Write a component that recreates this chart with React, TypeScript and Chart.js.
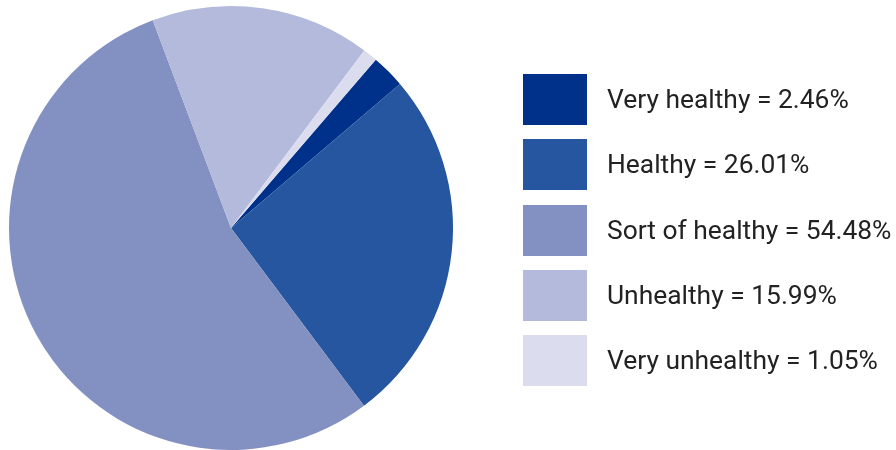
import React, { useEffect, useRef } from "react";
import { Chart, registerables } from "chart.js";

Chart.register(...registerables);

const categories = ["Very healthy", "Healthy", "Sort of healthy", "Unhealthy", "Very unhealthy"];
const shares = [2.46, 26.01, 54.48, 15.99, 1.05];
const colors = ["#00318a", "#25569f", "#8391c2", "#b3badb", "#dbdcee"];

const legendPlugin = {
  id: "customLegend",
  afterDraw(chart: any) {
    const ctx = chart.ctx;
    const labels = chart.data.labels as string[];
    const data = chart.data.datasets[0].data as number[];
    const bg = chart.data.datasets[0].backgroundColor as string[];
    const boxX = 523;
    const boxW = 64;
    const boxH = 51;
    const top0 = 74;
    const pitch = 65.25;
    ctx.save();
    ctx.font = "26.4px Roboto";
    ctx.textBaseline = "middle";
    ctx.textAlign = "left";
    labels.forEach((lab, i) => {
      const y = Math.round(top0 + i * pitch);
      ctx.fillStyle = bg[i];
      ctx.fillRect(boxX, y, boxW, boxH);
      ctx.fillStyle = "#222222";
      ctx.fillText(`${lab} = ${data[i].toFixed(2)}%`, 607, y + boxH / 2 + 1.5);
    });
    ctx.restore();
  },
};

export default function App() {
  const ref = useRef<HTMLCanvasElement>(null);
  useEffect(() => {
    if (!ref.current) return;
    const chart = new Chart(ref.current, {
      type: "pie",
      data: {
        labels: categories,
        datasets: [
          {
            data: shares,
            backgroundColor: colors,
            borderWidth: 0,
          },
        ],
      },
      options: {
        responsive: false,
        animation: false,
        rotation: 40.7,
        layout: { padding: { left: 9, right: 443, top: 6, bottom: 0 } },
        plugins: {
          legend: { display: false },
          tooltip: { enabled: false },
        },
      },
      plugins: [legendPlugin],
    });
    return () => chart.destroy();
  }, []);
  return (
    <div style={{ position: "absolute", left: 0, top: 0, width: 896, height: 450, background: "#fff" }}>
      <canvas ref={ref} width={896} height={450} style={{ width: 896, height: 450 }} />
    </div>
  );
}
